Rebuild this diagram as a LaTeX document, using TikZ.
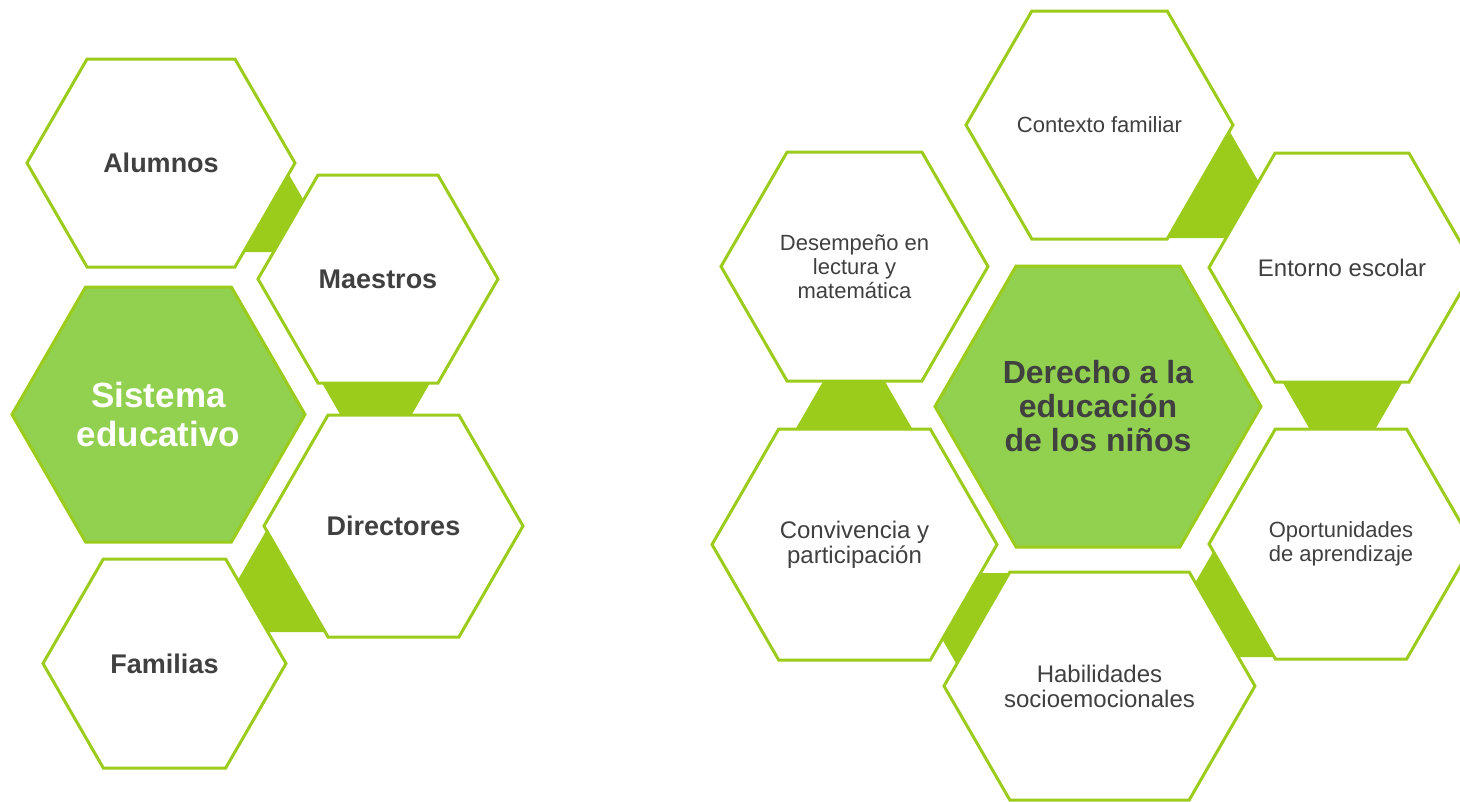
\documentclass[tikz,border=0pt]{standalone}
\usepackage{fontspec}
\setmainfont{Liberation Sans}
\usepackage{tikz}
\usetikzlibrary{positioning,shapes,calc}
\pgfdeclarelayer{background}
\pgfsetlayers{background,main}

\definecolor{hexline}{HTML}{9BCB1B}
\definecolor{hexfill}{HTML}{92D050}
\definecolor{hextext}{HTML}{404040}

\tikzset{
    hexa/.style={signal, signal to=east and west, signal pointer angle=120,
        draw=hexline, line width=3pt, fill=white, inner ysep=0pt, inner xsep=-100pt,
        text=hextext, align=center},
    core/.style={hexa, fill=hexfill},
    boldtext/.style={font=\fontsize{27}{32}\selectfont\bfseries},
    plaintext/.style={font=\fontsize{22}{24}\selectfont},
    widetext/.style={font=\fontsize{24}{25}\selectfont},
    link/.style={fill=hexline}
}

\begin{document}
\begin{tikzpicture}[x=1pt,y=-1pt]
\useasboundingbox (0,0) rectangle (1460,801);

% Sistema educativo
\node[hexa, boldtext, minimum width=268, minimum height=208] (alu) at (161,163) {Alumnos};
\node[hexa, boldtext, minimum width=240, minimum height=208] (mae) at (378,279) {Maestros};
\node[core, text=white, font=\fontsize{35}{39}\selectfont\bfseries, minimum width=293, minimum height=255] (sis) at (158.5,414.5) {Sistema\\educativo};
\node[hexa, boldtext, minimum width=259, minimum height=222] (dir) at (393.5,526) {Directores};
\node[hexa, boldtext, minimum width=243, minimum height=209] (fam) at (164.5,663.5) {Familias};

% Derecho a la educacion
\node[hexa, plaintext, minimum width=267, minimum height=228] (ctx) at (1099.5,125) {Contexto familiar};
\node[hexa, widetext, minimum width=266, minimum height=229] (ent) at (1342,267.5) {Entorno escolar};
\node[hexa, plaintext, minimum width=267, minimum height=229] (des) at (854.5,266.5) {Desempeño en\\lectura y\\matemática};
\node[core, font=\fontsize{32}{34}\selectfont\bfseries, minimum width=326, minimum height=281] (der) at (1098,406.5) {Derecho a la\\educación\\de los niños};
\node[hexa, widetext, minimum width=285, minimum height=231] (con) at (854.5,544.5) {Convivencia y\\participación};
\node[hexa, plaintext, minimum width=264, minimum height=230] (opo) at (1341,544) {Oportunidades\\de aprendizaje};
\node[hexa, widetext, minimum width=311, minimum height=228] (hab) at (1099.5,686) {Habilidades\\socioemocionales};

\begin{pgfonlayer}{background}
    \fill[link] ($(alu)+(127.6,11)$) -- ++(-45,78) -- ++(90,0) -- cycle;
    \fill[link] ($(mae)+(-56,104)$) -- ++(108,0) -- ++(-54,93.5) -- cycle;
    \fill[link] ($(dir)+(-127.5,5)$) -- ++(-58,101) -- ++(116,0) -- cycle;
    \fill[link] ($(ctx)+(130.5,7)$) -- ++(-61,106) -- ++(122,0) -- cycle;
    \fill[link] ($(ent)+(-59.5,114.5)$) -- ++(120,0) -- ++(-60,104) -- cycle;
    \fill[link] ($(opo)+(-128,8)$) -- ++(-61,105) -- ++(122,0) -- cycle;
    \fill[link] ($(hab)+(-195.5,-113)$) -- ++(106,0) -- ++(-53,92) -- cycle;
    \fill[link] ($(des)+(-0.5,61.5)$) -- ++(-59,102) -- ++(118,0) -- cycle;
\end{pgfonlayer}
\end{tikzpicture}
\end{document}
